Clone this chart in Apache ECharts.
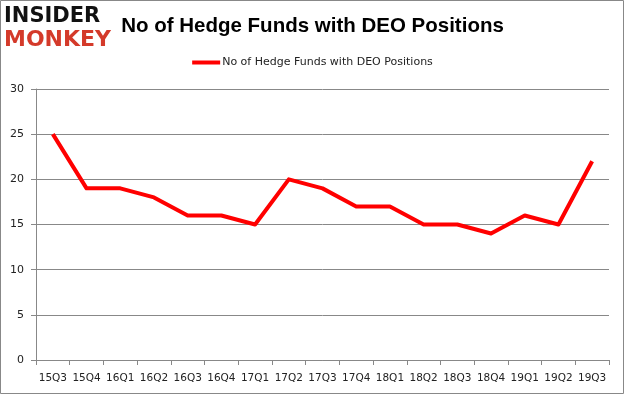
<!DOCTYPE html>
<html>
<head>
<meta charset="utf-8">
<script src="https://cdn.jsdelivr.net/npm/echarts@6/dist/echarts.min.js"></script>
<style>
html,body{margin:0;padding:0;background:#fff;}
#c{width:625px;height:395px;}
</style>
</head>
<body>
<div id="c"></div>
<script>
const categories = ['15Q3','15Q4','16Q1','16Q2','16Q3','16Q4','17Q1','17Q2','17Q3','17Q4','18Q1','18Q2','18Q3','18Q4','19Q1','19Q2','19Q3'];
const hedgeFunds = [25,19,19,18,16,16,15,20,19,17,17,15,15,14,16,15,22];
const seriesName = 'No of Hedge Funds with DEO Positions';
const titleText = 'No of Hedge Funds with DEO Positions';

const chart = echarts.init(document.getElementById('c'), null, {renderer:'canvas'});
chart.setOption({
  animation:false,
  backgroundColor:'#fff',
  title:{
    text:titleText,
    left:'center',
    top:11,
    textStyle:{fontFamily:'Liberation Sans',fontWeight:'bold',fontSize:20.5,color:'#000'}
  },
  legend:{
    data:[{name:seriesName,icon:'rect'}],
    top:52,
    left:'center',
    itemWidth:28,
    itemHeight:4,
    itemGap:5,
    textStyle:{fontFamily:'DejaVu Sans',fontSize:11,color:'#222',padding:[0,0,0,-3]}
  },
  grid:{left:36,right:16,top:89,bottom:35,containLabel:false},
  xAxis:{
    type:'category',
    data:categories,
    boundaryGap:true,
    axisLine:{lineStyle:{color:'#888',width:1}},
    axisTick:{show:true,length:5,lineStyle:{color:'#888'}},
    axisLabel:{fontFamily:'DejaVu Sans',fontSize:10.5,color:'#222',margin:13,interval:0}
  },
  yAxis:{
    type:'value',
    min:0,max:30,interval:5,
    axisLine:{show:true,lineStyle:{color:'#888',width:1}},
    axisTick:{show:true,length:5,lineStyle:{color:'#888'}},
    splitLine:{lineStyle:{color:'#888',width:1}},
    axisLabel:{fontFamily:'DejaVu Sans',fontSize:11,color:'#222',margin:12}
  },
  series:[{
    name:seriesName,
    type:'line',
    data:hedgeFunds,
    symbol:'none',
    lineStyle:{color:'#ff0000',width:4,join:'round'},
    itemStyle:{color:'#ff0000'}
  }],
  graphic:[
    {type:'rect',shape:{x:0.5,y:0.5,width:623,height:393},style:{fill:'none',stroke:'#888',lineWidth:1}},
    {type:'text',left:4,top:6,style:{text:'INSIDER',fontFamily:'DejaVu Sans',fontWeight:'bold',fontSize:21,fill:'#111'}},
    {type:'text',left:4,top:29,style:{text:'MONKEY',fontFamily:'DejaVu Sans',fontWeight:'bold',fontSize:22,fill:'#d43a2a'}}
  ]
});
</script>
</body>
</html>
